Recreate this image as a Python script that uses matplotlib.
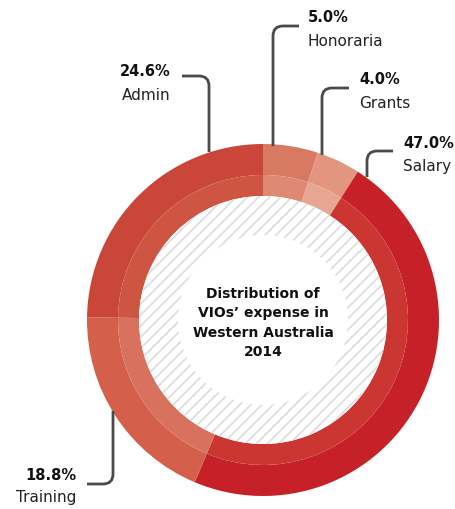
import matplotlib
matplotlib.use("Agg")
import matplotlib.pyplot as plt
from matplotlib.patches import Wedge, PathPatch
from matplotlib.path import Path

# data (clockwise from the top)
categories = ["Honoraria", "Grants", "Salary", "Training", "Admin"]
shares = [5.0, 4.0, 47.0, 18.8, 24.6]
outer_colors = ["#d87a62", "#e2967f", "#c62028", "#d4604c", "#c94639"]
inner_colors = ["#de8a73", "#e6a692", "#cb3632", "#d8725e", "#cd5542"]
title = "Distribution of\nVIOs’ expense in\nWestern Australia\n2014"

W, H = 456, 510
plt.rcParams['font.family'] = ['DejaVu Sans']
plt.rcParams['hatch.linewidth'] = 1.3

fig = plt.figure(figsize=(W / 100, H / 100), dpi=100)
ax = fig.add_axes([0, 0, 1, 1])

cx, cy = 263, H - 321
r_out, r_mid, r_in, r_white = 176, 145, 124, 85

# outer ring and inner band
ax.pie(shares, colors=outer_colors, startangle=90, counterclock=False,
       center=(cx, cy), radius=r_out,
       wedgeprops=dict(width=r_out - r_mid, linewidth=0))
ax.pie(shares, colors=inner_colors, startangle=90, counterclock=False,
       center=(cx, cy), radius=r_mid,
       wedgeprops=dict(width=r_mid - r_in, linewidth=0))

# hatched inner ring
ax.add_patch(Wedge((cx, cy), r_in, 0, 360, width=r_in - r_white,
                   facecolor="white", edgecolor="#dedede", hatch="///",
                   linewidth=0))

ax.text(cx, H - 323, title, ha="center", va="center", fontsize=10,
        fontweight="bold", color="#111111", linespacing=1.5)


def leader(x, y_bottom, y_top, x_end, r=10):
    # vertical line rising from the ring, rounded corner, then horizontal
    d = 1 if x_end > x else -1
    verts = [(x, H - y_bottom), (x, H - y_top - r), (x, H - y_top),
             (x + d * r, H - y_top), (x_end, H - y_top)]
    codes = [Path.MOVETO, Path.LINETO, Path.CURVE3, Path.CURVE3, Path.LINETO]
    ax.add_patch(PathPatch(Path(verts, codes), facecolor="none",
                           edgecolor="#4a4a4a", linewidth=2,
                           capstyle="butt"))


# label layout: (leader x, bottom y, top y, end x, text x, text align, text y)
layout = {
    "Honoraria": (273, 147, 27, 299, 308, "left", 18),
    "Grants": (322, 156, 89, 349, 359, "left", 80),
    "Salary": (367, 178, 152, 393, 403, "left", 143),
    "Admin": (209, 153, 77, 182, 171, "right", 72),
}
for name, val in zip(categories, shares):
    if name == "Training":
        continue
    lx, yb, yt, xe, tx, ha, ty = layout[name]
    leader(lx, yb, yt, xe)
    ax.text(tx, H - ty, f"{val:.1f}%", ha=ha, va="center", fontsize=10.5,
            fontweight="bold", color="#111111")
    ax.text(tx, H - ty - 23, name, ha=ha, va="center", fontsize=11,
            color="#222222")

# Training label: leader comes down from the ring, then turns left
train_val = shares[categories.index("Training")]
ax.add_patch(PathPatch(Path(
    [(113, H - 412), (113, H - 475), (113, H - 485), (103, H - 485),
     (87, H - 485)],
    [Path.MOVETO, Path.LINETO, Path.CURVE3, Path.CURVE3, Path.LINETO]),
    facecolor="none", edgecolor="#4a4a4a", linewidth=2))
ax.text(76, H - 476, f"{train_val:.1f}%", ha="right", va="center",
        fontsize=10.5, fontweight="bold", color="#111111")
ax.text(76, H - 498, "Training", ha="right", va="center", fontsize=11,
        color="#222222")

ax.set_xlim(0, W)
ax.set_ylim(0, H)
ax.set_aspect("equal")
ax.axis("off")

fig.savefig("out.png", dpi=100, facecolor="white")
